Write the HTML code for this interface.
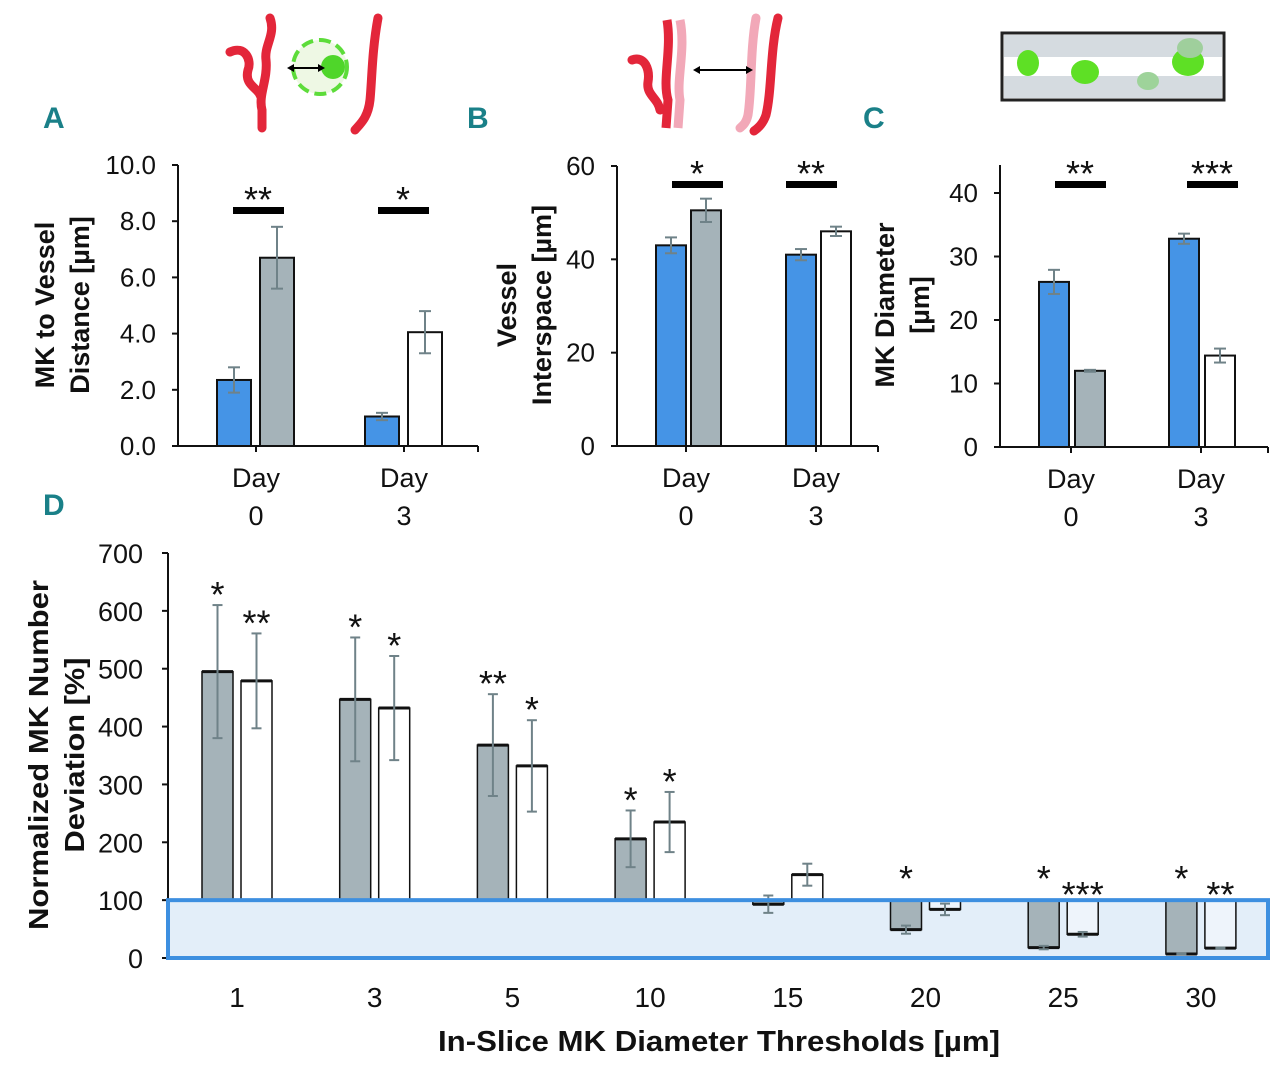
<!DOCTYPE html>
<html><head><meta charset="utf-8"><style>
html,body{margin:0;padding:0;background:#fff;}
svg{display:block;}
text{font-family:"Liberation Sans",sans-serif;fill:#111;}
.n{font-family:"Liberation Sans Narrow","Liberation Sans",sans-serif;}
.let{font-family:"Liberation Sans Narrow","Liberation Sans",sans-serif;font-weight:bold;fill:#1a8088;font-size:30px;}
</style></head><body>
<svg id="fig" width="1280" height="1066" viewBox="0 0 1280 1066" xmlns="http://www.w3.org/2000/svg">
<g>
<path d="M270,18 C276,35 264,45 266,60 C268,80 258,95 262,110 L262,128" stroke="#e3263a" stroke-width="9" fill="none" stroke-linecap="round"/>
<path d="M230,52 C245,45 252,60 248,70 C244,85 258,88 260,95" stroke="#e3263a" stroke-width="9" fill="none" stroke-linecap="round"/>
<path d="M378,18 C372,50 372,80 370,100 C368,118 360,124 355,130" stroke="#e3263a" stroke-width="9" fill="none" stroke-linecap="round"/>
<circle cx="320" cy="67" r="27" fill="#eef8e4" stroke="#5ddc3a" stroke-width="4" stroke-dasharray="12,6"/>
<circle cx="333" cy="67" r="12" fill="#4fd62a"/>
<line x1="290" y1="68" x2="322" y2="68" stroke="#000" stroke-width="2"/>
<path d="M287,68 l7,-4 v8z M325,68 l-7,-4 v8z" fill="#000"/>
</g>
<g>
<path d="M667,20 C672,50 662,80 668,100 L666,128" stroke="#e3263a" stroke-width="9" fill="none"/>
<path d="M680,20 C686,50 676,80 680,100 L678,128" stroke="#f2a8b8" stroke-width="9" fill="none"/>
<path d="M632,60 C645,55 650,70 648,82 C646,95 658,98 660,110" stroke="#e3263a" stroke-width="9" fill="none" stroke-linecap="round"/>
<path d="M756,18 C750,50 752,90 748,115 C746,124 742,126 740,128" stroke="#f2a8b8" stroke-width="9" fill="none" stroke-linecap="round"/>
<path d="M778,18 C770,50 772,90 766,115 C763,124 758,128 754,131" stroke="#e3263a" stroke-width="9" fill="none" stroke-linecap="round"/>
<line x1="696" y1="70" x2="750" y2="70" stroke="#000" stroke-width="2"/>
<path d="M693,70 l7,-4 v8z M753,70 l-7,-4 v8z" fill="#000"/>
</g>
<g>
<rect x="1002" y="33" width="222" height="67" fill="#fff" stroke="#222" stroke-width="3"/>
<rect x="1004" y="35" width="218" height="22" fill="#d5dbe0"/>
<rect x="1004" y="76" width="218" height="22" fill="#d5dbe0"/>
<ellipse cx="1028" cy="63" rx="11" ry="13" fill="#5ee025"/>
<ellipse cx="1085" cy="72" rx="14" ry="12" fill="#5ee025"/>
<ellipse cx="1148" cy="81" rx="11" ry="9" fill="#9ed39a"/>
<ellipse cx="1188" cy="62" rx="16" ry="14" fill="#5ee025"/>
<ellipse cx="1190" cy="48" rx="13" ry="10" fill="#9fcf9c"/>
</g>
<text class="let" x="43" y="128">A</text>
<text class="let" x="467" y="128">B</text>
<text class="let" x="863" y="128">C</text>
<text class="let" x="43" y="515">D</text>
<g id="charts"></g>
</svg>
<script>
// Panel A data
const aCats = ['Day|0','Day|3'];
const aBlue = [2.35, 1.05];
const aBlueErr = [0.45, 0.13];
const aOther = [6.7, 4.05];
const aOtherErr = [1.1, 0.75];
const aTicks = ['0.0','2.0','4.0','6.0','8.0','10.0'];
const aTickVals = [0,2,4,6,8,10];
const aSig = ['**','*'];
// Panel B data
const bCats = ['Day|0','Day|3'];
const bBlue = [43, 41];
const bBlueErr = [1.7, 1.2];
const bOther = [50.5, 46];
const bOtherErr = [2.5, 1.0];
const bTicks = ['0','20','40','60'];
const bTickVals = [0,20,40,60];
const bSig = ['*','**'];
// Panel C data
const cCats = ['Day|0','Day|3'];
const cBlue = [26, 32.8];
const cBlueErr = [1.9, 0.8];
const cOther = [12, 14.4];
const cOtherErr = [0.15, 1.1];
const cTicks = ['0','10','20','30','40'];
const cTickVals = [0,10,20,30,40];
const cSig = ['**','***'];
// Panel D data
const dCats = ['1','3','5','10','15','20','25','30'];
const dDay0 = [495, 447, 368, 206, 93, 49, 18, 7];
const dDay0Err = [115, 107, 88, 49, 15, 7, 3, 0.5];
const dDay3 = [479, 432, 332, 235, 144, 84, 41, 17];
const dDay3Err = [82, 90, 79, 52, 19, 10, 4, 1];
const dSig0 = ['*','*','**','*','','*','*','*'];
const dSig3 = ['**','*','*','*','','','***','**'];
const dTicks = ['0','100','200','300','400','500','600','700'];
const dTickVals = [0,100,200,300,400,500,600,700];

const NS='http://www.w3.org/2000/svg';
const root=document.getElementById('charts');
function mk(tag,attrs,parent){const e=document.createElementNS(NS,tag);for(const k in attrs)e.setAttribute(k,attrs[k]);(parent||root).appendChild(e);return e;}
function txt(s,attrs,parent){const e=mk('text',attrs,parent);e.textContent=s;return e;}
const BLUE='#4594e6', GRAY='#a5b3b9', ERR='#6f8288';

function small(cfg){
  const g=mk('g',{});
  
  
  const y=v=>cfg.y0-(v-0)*(cfg.y0-cfg.yTop)/(cfg.vTop);
  const ax=mk('line',{x1:cfg.ax,y1:cfg.axTop,x2:cfg.ax,y2:cfg.y0,stroke:'#111','stroke-width':2},g);
  
  
  const xa=mk('line',{x1:cfg.ax,y1:cfg.y0,x2:cfg.axR,y2:cfg.y0,stroke:'#111','stroke-width':2},g);
  
  
  mk('line',{x1:cfg.axR,y1:cfg.y0,x2:cfg.axR,y2:cfg.y0+6,stroke:'#111','stroke-width':2},g);
  cfg.tickVals.forEach((v,i)=>{
    mk('line',{x1:cfg.ax-6,y1:y(v),x2:cfg.ax,y2:y(v),stroke:'#111','stroke-width':2},g);
    const t=txt(cfg.ticks[i],{x:cfg.ax-22,y:y(v)+9,'text-anchor':'end','font-size':26},g);
    
    
  });
  cfg.cats.forEach((c,i)=>{
    const cx=cfg.cx[i];
    mk('line',{x1:cx,y1:cfg.y0,x2:cx,y2:cfg.y0+6,stroke:'#111','stroke-width':2},g);
    const parts=c.split('|');
    const t1=txt(parts[0],{x:cx,y:cfg.y0+41,'text-anchor':'middle','font-size':27},g);
    
    
    const t2=txt(parts[1],{x:cx,y:cfg.y0+79,'text-anchor':'middle','font-size':27},g);
    
    
    const series=[[cfg.blue[i],cfg.blueErr[i],BLUE,-cfg.off1],[cfg.other[i],cfg.otherErr[i],i==0?GRAY:'#fff',cfg.off2]];
    series.forEach(s=>{
      const x=cx+s[3];
      const b=mk('rect',{x:x,y:y(s[0]),width:cfg.bw,height:cfg.y0-y(s[0]),fill:s[2],stroke:'#111','stroke-width':2},g);
      
      
      const mx=x+cfg.bw/2;
      mk('line',{x1:mx,y1:y(s[0]+s[1]),x2:mx,y2:y(s[0]-s[1]),stroke:ERR,'stroke-width':2},g);
      mk('line',{x1:mx-6,y1:y(s[0]+s[1]),x2:mx+6,y2:y(s[0]+s[1]),stroke:ERR,'stroke-width':2},g);
      mk('line',{x1:mx-6,y1:y(s[0]-s[1]),x2:mx+6,y2:y(s[0]-s[1]),stroke:ERR,'stroke-width':2},g);
    });
    const sl=mk('rect',{x:cfg.sigX[i],y:cfg.sigY-3,width:51,height:7,fill:'#000'},g);
    
    
    const st=txt(cfg.sig[i],{x:cfg.sigX[i]+25,y:cfg.sigY+2,'text-anchor':'middle','font-size':36},g);
    
    
  });
  cfg.title.forEach((s,i)=>{
    const t=txt(s,{x:0,y:0,'text-anchor':'middle','font-size':27,'font-weight':'bold',transform:`translate(${cfg.titleX[i]},${cfg.titleY}) rotate(-90)`},g);
    
    
  });
}
small({name:'chart-a',ax:178,axR:478,axTop:165,y0:446,yTop:165,vTop:10,cats:aCats,cx:[256,404],blue:aBlue,blueErr:aBlueErr,other:aOther,otherErr:aOtherErr,
 ticks:aTicks,tickVals:aTickVals,sig:aSig,sigX:[233,378],sigY:210,off1:39,off2:4,bw:34,title:['MK to Vessel','Distance [µm]'],titleX:[54,89],titleY:305});
small({name:'chart-b',ax:617,axR:878,axTop:166,y0:446,yTop:166,vTop:60,cats:bCats,cx:[686,816],blue:bBlue,blueErr:bBlueErr,other:bOther,otherErr:bOtherErr,
 ticks:bTicks,tickVals:bTickVals,sig:bSig,sigX:[672,786],sigY:184,off1:30,off2:5,bw:30,title:['Vessel','Interspace [µm]'],titleX:[516,551],titleY:305});
small({name:'chart-c',ax:1000,axR:1268,axTop:165,y0:447,yTop:193,vTop:40,cats:cCats,cx:[1071,1201],blue:cBlue,blueErr:cBlueErr,other:cOther,otherErr:cOtherErr,
 ticks:cTicks,tickVals:cTickVals,sig:cSig,sigX:[1055,1187],sigY:184,off1:32,off2:4,bw:30,title:['MK Diameter','[µm]'],titleX:[894,929],titleY:305});

// Panel D
(function(){
  const g=mk('g',{});
  
  
  const y0=958, yTop=553, ax=168;
  const y=v=>y0-v*(y0-yTop)/700;
  const x=i=>237+i*137.7;
  const ya=mk('line',{x1:ax,y1:yTop,x2:ax,y2:y0,stroke:'#111','stroke-width':2},g);
  
  
  dTickVals.forEach((v,i)=>{
    mk('line',{x1:ax-6,y1:y(v),x2:ax,y2:y(v),stroke:'#111','stroke-width':2},g);
    const t=txt(dTicks[i],{x:ax-25,y:y(v)+10,'text-anchor':'end','font-size':27,'class':'n'},g);
    
    
  });
  const band=mk('rect',{x:ax,y:y(100),width:1268-ax,height:y(0)-y(100),fill:'#e3eef9'},g);
  
  
  const stars=[];
  dCats.forEach((c,i)=>{
    const cx=x(i);
    [[dDay0[i],dDay0Err[i],GRAY,cx-35,dSig0[i]],[dDay3[i],dDay3Err[i],'#fff',cx+4,dSig3[i]]].forEach(s=>{
      const top=Math.min(y(s[0]),y(100)), h=Math.abs(y(s[0])-y(100));
      const fill=s[0]<100&&s[2]=='#fff'?'#eef4fb':s[2];
      const b=mk('rect',{x:s[3],y:top,width:31,height:h,fill:fill,stroke:'#111','stroke-width':1.5},g);
      
      
      mk('line',{x1:s[3],y1:y(s[0]),x2:s[3]+31,y2:y(s[0]),stroke:'#111','stroke-width':3},g);
      const mx=s[3]+15.5;
      mk('line',{x1:mx,y1:y(s[0]+s[1]),x2:mx,y2:y(s[0]-s[1]),stroke:ERR,'stroke-width':2},g);
      mk('line',{x1:mx-5,y1:y(s[0]+s[1]),x2:mx+5,y2:y(s[0]+s[1]),stroke:ERR,'stroke-width':2},g);
      mk('line',{x1:mx-5,y1:y(s[0]-s[1]),x2:mx+5,y2:y(s[0]-s[1]),stroke:ERR,'stroke-width':2},g);
      if(s[4]){
        const sy=Math.min(y(s[0]+s[1])+2, s[2]==GRAY? 891 : 907);
        stars.push([s[4],mx,sy]);
      }
    });
    const t=txt(c,{x:cx,y:1007,'text-anchor':'middle','font-size':28,'class':'n'},g);
    
    
  });
  const bo=mk('rect',{x:ax,y:y(100),width:1268-ax,height:y(0)-y(100),fill:'none',stroke:'#3d8fe0','stroke-width':4},g);
  
  
  stars.forEach(s=>{
    const st=txt(s[0],{x:s[1],y:s[2],'text-anchor':'middle','font-size':36},g);
    
    
  });
  const xt=txt('In-Slice MK Diameter Thresholds [µm]',{x:438,y:1051,'font-size':29,'font-weight':'bold',textLength:562,lengthAdjust:'spacingAndGlyphs'},g);
  
  
  [['Normalized MK Number',48,350],['Deviation [%]',84,195]].forEach(p=>{
    const t=txt(p[0],{x:-p[2]/2,y:0,'font-size':28,'font-weight':'bold',textLength:p[2],lengthAdjust:'spacingAndGlyphs',transform:`translate(${p[1]},755) rotate(-90)`},g);
    
    
  });
})();
</script>
</body></html>
